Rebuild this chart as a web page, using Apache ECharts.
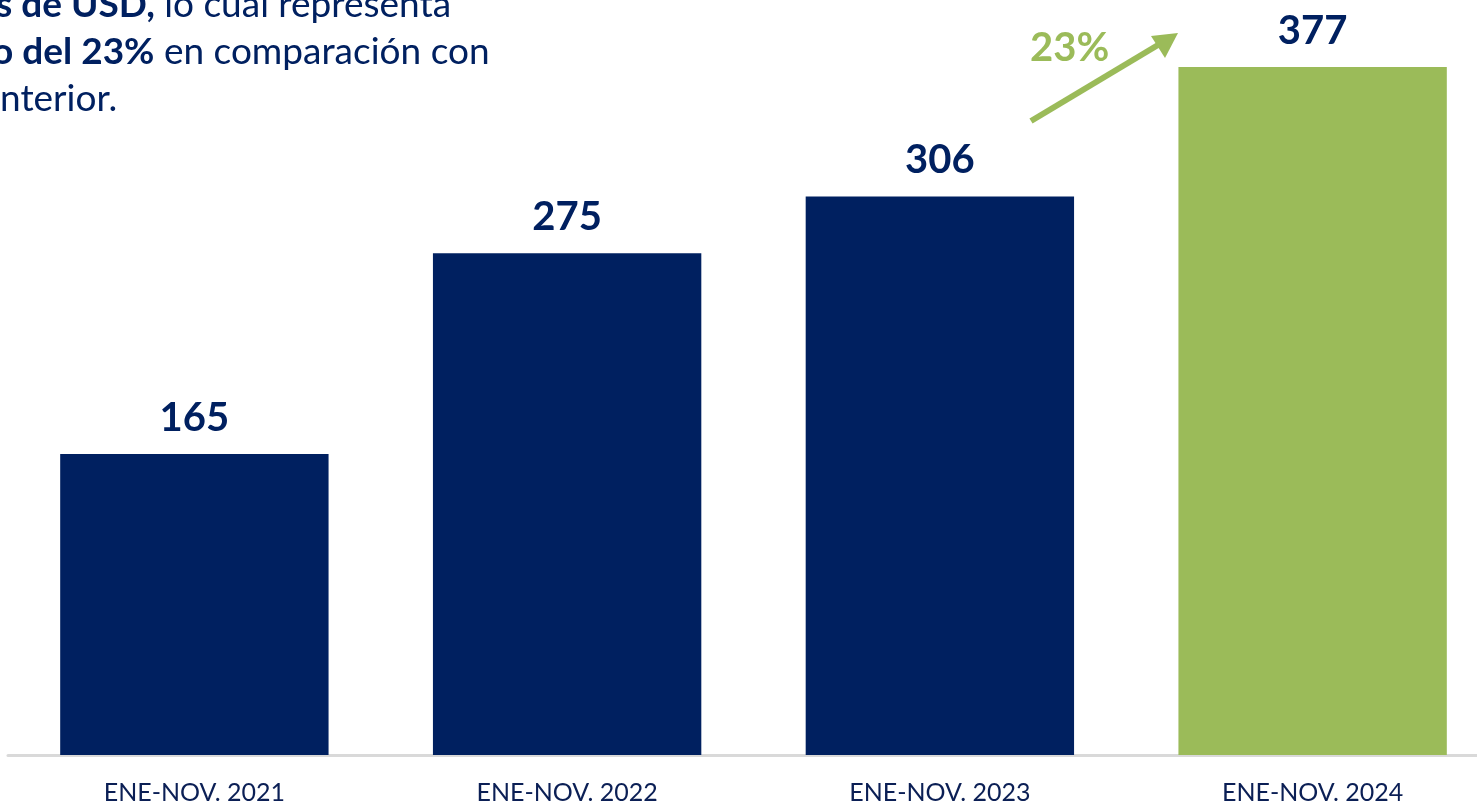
<!DOCTYPE html>
<html>
<head>
<meta charset="utf-8">
<script src="https://cdn.jsdelivr.net/npm/echarts@6/dist/echarts.min.js"></script>
<style>
html,body{margin:0;padding:0;background:#fff;}
#chart{width:1477px;height:804px;}
</style>
</head>
<body>
<div id="chart"></div>
<script>
const categories = ['ENE-NOV. 2021', 'ENE-NOV. 2022', 'ENE-NOV. 2023', 'ENE-NOV. 2024'];
const values = [165, 275, 306, 377];
const barColors = ['#002060', '#002060', '#002060', '#9BBB59'];
const growthLabel = '23%';

const FONT = 'Lato';
const TXT = 37;
const chart = echarts.init(document.getElementById('chart'), null, {renderer: 'canvas'});
chart.setOption({
  animation: false,
  backgroundColor: '#ffffff',
  grid: {left: 8, width: 1491, top: 25, bottom: 49, containLabel: false, outerBoundsMode: 'none'},
  xAxis: {
    type: 'category',
    data: categories,
    axisLine: {show: true, lineStyle: {color: '#D9D9D9', width: 3}},
    axisTick: {show: false},
    axisLabel: {color: '#0B1F55', fontFamily: FONT, fontSize: 25, margin: 25}
  },
  yAxis: {
    type: 'value', min: 0, max: 400,
    show: false, splitLine: {show: false}
  },
  series: [{
    type: 'bar',
    data: values.map((v, i) => ({value: v, itemStyle: {color: barColors[i]}})),
    barWidth: '72%',
    label: {
      show: true, position: 'top', distance: 16,
      color: '#002060', fontFamily: FONT, fontWeight: 'bold', fontSize: 40
    }
  }],
  graphic: [
    {type: 'text', left: -4, top: -13, style: {
      text: '{b|s de USD,} lo cual representa',
      rich: {b: {fontWeight: 'bold', fontSize: TXT, fontFamily: FONT, fill: '#002060'}},
      fontFamily: FONT, fontSize: TXT, fill: '#002060'}},
    {type: 'text', left: -8, top: 34, style: {
      text: '{b|o del 23%} en comparación con',
      rich: {b: {fontWeight: 'bold', fontSize: TXT, fontFamily: FONT, fill: '#002060'}},
      fontFamily: FONT, fontSize: TXT, fill: '#002060'}},
    {type: 'text', left: 0, top: 81, style: {
      text: 'nterior.', fontFamily: FONT, fontSize: TXT, fill: '#002060'}},
    {type: 'text', left: 1030, top: 28, style: {
      text: growthLabel, fontFamily: FONT, fontWeight: 'bold', fontSize: 40, fill: '#9BBB59'}},
    {type: 'line', shape: {x1: 1031, y1: 121, x2: 1163, y2: 42},
      style: {stroke: '#9BBB59', lineWidth: 6}},
    {type: 'polygon', shape: {points: [[1178, 33], [1151, 36], [1165, 58]]},
      style: {fill: '#9BBB59'}}
  ]
});
</script>
</body>
</html>
